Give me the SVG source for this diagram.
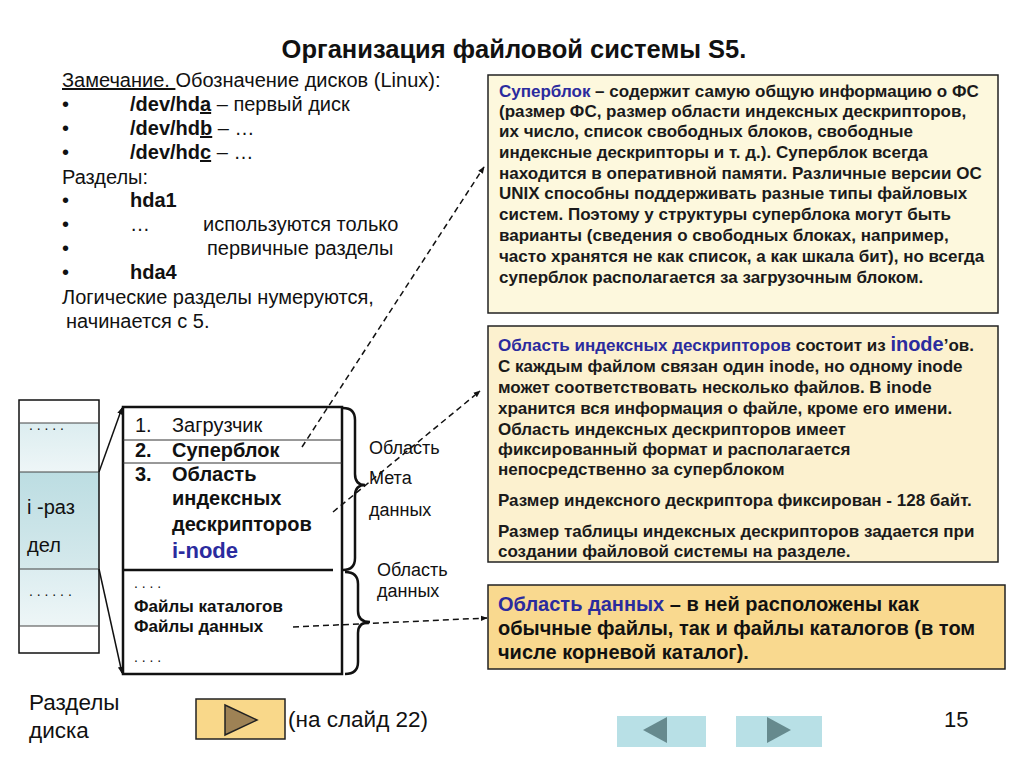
<svg xmlns="http://www.w3.org/2000/svg" width="1024" height="767" viewBox="0 0 1024 767">
<defs>
<style>
text{font-family:"Liberation Sans",Arial,sans-serif;fill:#111}
.t17{font-size:20px}
.b{font-weight:bold}
.box{stroke:#222;stroke-width:1.5}
.bt{font-size:17px;font-weight:bold;fill:#1a1a1a}
.blue{fill:#2b2b9e}
.dash{fill:none;stroke:#111;stroke-width:1.5;stroke-dasharray:6 4}
.solid{fill:none;stroke:#111;stroke-width:1.5}
.brace{fill:none;stroke:#111;stroke-width:2.5}
</style>
<marker id="ah" viewBox="0 0 10 10" refX="9" refY="5" markerWidth="7" markerHeight="7" orient="auto" markerUnits="userSpaceOnUse">
<path d="M0,1 L10,5 L0,9 z" fill="#111"/>
</marker>
<linearGradient id="g1" x1="0" y1="0" x2="0" y2="1">
<stop offset="0" stop-color="#dcedf0"/><stop offset="1" stop-color="#eef6f7"/>
</linearGradient>
<linearGradient id="g2" x1="0" y1="0" x2="0" y2="1">
<stop offset="0" stop-color="#bcdde2"/><stop offset="1" stop-color="#d5e9ec"/>
</linearGradient>
<linearGradient id="g3" x1="0" y1="0" x2="0" y2="1">
<stop offset="0" stop-color="#dcedf0"/><stop offset="1" stop-color="#eef6f7"/>
</linearGradient>
</defs>
<rect width="1024" height="767" fill="#fff"/>

<text x="514" y="58" text-anchor="middle" class="b" style="font-size:25.5px">Организация файловой системы S5.</text>

<g id="notes" class="t17">
<text x="62" y="87"><tspan text-decoration="underline">Замечание. </tspan> Обозначение дисков (Linux):</text>
<text x="62" y="111">•</text><text x="130" y="111"><tspan class="b">/dev/hd<tspan text-decoration="underline">a</tspan></tspan> – первый диск</text>
<text x="62" y="135">•</text><text x="130" y="135"><tspan class="b">/dev/hd<tspan text-decoration="underline">b</tspan></tspan> – …</text>
<text x="62" y="159">•</text><text x="130" y="159"><tspan class="b">/dev/hd<tspan text-decoration="underline">c</tspan></tspan> – …</text>
<text x="62" y="184">Разделы:</text>
<text x="62" y="207">•</text><text x="130" y="207" class="b">hda1</text>
<text x="62" y="231">•</text><text x="130" y="231">…</text><text x="203" y="231">используются только</text>
<text x="62" y="255">•</text><text x="207" y="255">первичные разделы</text>
<text x="62" y="279">•</text><text x="130" y="279" class="b">hda4</text>
<text x="62" y="304">Логические разделы нумеруются,</text>
<text x="66" y="328">начинается с 5.</text>
</g>

<g id="superblock-box">
<rect x="488" y="75" width="510" height="238" fill="#fdf8dd" class="box"/>
<text class="bt"><tspan x="499" y="97"><tspan class="blue">Суперблок</tspan> – содержит самую общую информацию о ФС</tspan><tspan x="499" y="117">(размер ФС, размер области индексных дескрипторов,</tspan><tspan x="499" y="137">их число, список свободных блоков, свободные</tspan><tspan x="499" y="158">индексные дескрипторы и т. д.). Суперблок всегда</tspan><tspan x="499" y="179">находится в оперативной памяти. Различные версии ОС</tspan><tspan x="499" y="199">UNIX способны поддерживать разные типы файловых</tspan><tspan x="499" y="220">систем. Поэтому у структуры суперблока могут быть</tspan><tspan x="499" y="241">варианты (сведения о свободных блоках, например,</tspan><tspan x="499" y="262">часто хранятся не как список, а как шкала бит), но всегда</tspan><tspan x="499" y="283">суперблок располагается за загрузочным блоком.</tspan></text>
</g>

<g id="inode-box">
<rect x="488" y="326" width="510" height="236" fill="#fcf1cf" class="box"/>
<text class="bt"><tspan x="498" y="351"><tspan class="blue">Область индексных дескрипторов</tspan> состоит из <tspan class="blue" style="font-size:20px">inode</tspan>’ов.</tspan><tspan x="498" y="372">С каждым файлом связан один inode, но одному inode</tspan><tspan x="498" y="393">может соответствовать несколько файлов. В inode</tspan><tspan x="498" y="414">хранится вся информация о файле, кроме его имени.</tspan><tspan x="498" y="435">Область индексных дескрипторов имеет</tspan><tspan x="498" y="455">фиксированный формат и располагается</tspan><tspan x="498" y="475">непосредственно за суперблоком</tspan><tspan x="498" y="506">Размер индексного дескриптора фиксирован - 128 байт.</tspan><tspan x="498" y="537">Размер таблицы индексных дескрипторов задается при</tspan><tspan x="498" y="557">создании файловой системы на разделе.</tspan></text>
</g>

<g id="data-box">
<rect x="488" y="585" width="517" height="84" fill="#f9d98f" class="box"/>
<text class="b" style="font-size:20px"><tspan x="498" y="611"><tspan class="blue">Область данных</tspan> – в ней расположены как</tspan><tspan x="498" y="635">обычные файлы, так и файлы каталогов (в том</tspan><tspan x="498" y="659">числе корневой каталог).</tspan></text>
</g>

<g id="disk-partitions">
<rect x="19" y="423" width="80" height="49" fill="url(#g1)"/>
<rect x="19" y="472" width="80" height="97" fill="url(#g2)"/>
<rect x="19" y="569" width="80" height="57" fill="url(#g3)"/>
<rect x="19" y="400" width="80" height="253" fill="none" stroke="#111" stroke-width="1.5"/>
<g stroke="#444" stroke-width="1.2">
<line x1="19" y1="423" x2="99" y2="423"/><line x1="19" y1="472" x2="99" y2="472"/>
<line x1="19" y1="569" x2="99" y2="569"/><line x1="19" y1="626" x2="99" y2="626"/>
</g>
<text x="29" y="430" style="font-size:14px">. . . . .</text>
<text x="29" y="596" style="font-size:14px">. . . . . .</text>
<text x="27" y="514" class="t17">i -раз</text>
<text x="27" y="552" class="t17">дел</text>
</g>

<g id="partition-layout">
<rect x="123" y="407" width="219" height="267" fill="#fff" stroke="#111" stroke-width="2.5"/>
<line x1="123" y1="440" x2="342" y2="440" stroke="#333" stroke-width="1"/>
<line x1="123" y1="463" x2="342" y2="463" stroke="#333" stroke-width="1"/>
<line x1="123" y1="570" x2="333" y2="570" stroke="#111" stroke-width="2.5"/>
<g style="font-size:20px">
<text x="135" y="432">1.</text><text x="172" y="432">Загрузчик</text>
<text x="135" y="457" class="b">2.</text><text x="172" y="457" class="b">Суперблок</text>
<text x="135" y="481" class="b">3.</text><text x="172" y="481" class="b">Область</text>
<text x="172" y="505" class="b">индексных</text>
<text x="172" y="531" class="b">дескрипторов</text>
<text x="172" y="558" class="b blue" style="font-size:22px">i-node</text>
</g>
<text x="134" y="588" style="font-size:14px">. . . .</text>
<text x="134" y="612" class="b" style="font-size:17px">Файлы каталогов</text>
<text x="134" y="632" class="b" style="font-size:17px">Файлы данных</text>
<text x="134" y="662" style="font-size:14px">. . . .</text>
</g>

<g id="meta-label" style="font-size:18px">
<text x="369" y="454">Область</text>
<text x="369" y="484">Мета</text>
<text x="369" y="516">данных</text>
</g>
<g id="data-label" style="font-size:18px">
<text x="377" y="576">Область</text>
<text x="377" y="597">данных</text>
</g>

<g id="connectors">
<line x1="99" y1="472" x2="122" y2="408" class="solid" marker-end="url(#ah)"/>
<line x1="99" y1="569" x2="122" y2="673" class="solid" marker-end="url(#ah)"/>
<path class="brace" d="M343,408 Q355,408 355,420 L355,474 Q355,485 365,485 Q355,485 355,496 L355,558 Q355,570 343,570"/>
<path class="brace" d="M345,572 Q358,572 358,584 L358,611 Q358,622 370,622 Q358,622 358,633 L358,662 Q358,674 345,674"/>
<line x1="302" y1="447" x2="484" y2="167" class="dash" marker-end="url(#ah)"/>
<line x1="333" y1="512" x2="480" y2="391" class="dash" marker-end="url(#ah)"/>
<line x1="293" y1="627" x2="487" y2="618" class="dash" marker-end="url(#ah)"/>
</g>

<g id="bottom">
<text x="29" y="710" style="font-size:22.5px">Разделы</text>
<text x="29" y="738" style="font-size:22.5px">диска</text>
</g>
<g id="goto-button">
<rect x="196" y="699" width="89" height="40" fill="#f9d88a" stroke="#222" stroke-width="1.5"/>
<path d="M225,705 L257,720 L225,735 z" fill="#9e8255" stroke="#222" stroke-width="1.5"/>
<text x="288" y="727" style="font-size:22.5px">(на слайд 22)</text>
</g>
<g id="nav-prev">
<rect x="617" y="716" width="89" height="31" fill="#b8e0e6"/>
<path d="M643,730 L667,717 L667,743 z" fill="#668a8e"/>
</g>
<g id="nav-next">
<rect x="736" y="716" width="86" height="31" fill="#b8e0e6"/>
<path d="M767,717 L791,730 L767,743 z" fill="#668a8e"/>
</g>
<text x="944" y="727" style="font-size:22px">15</text>
</svg>
